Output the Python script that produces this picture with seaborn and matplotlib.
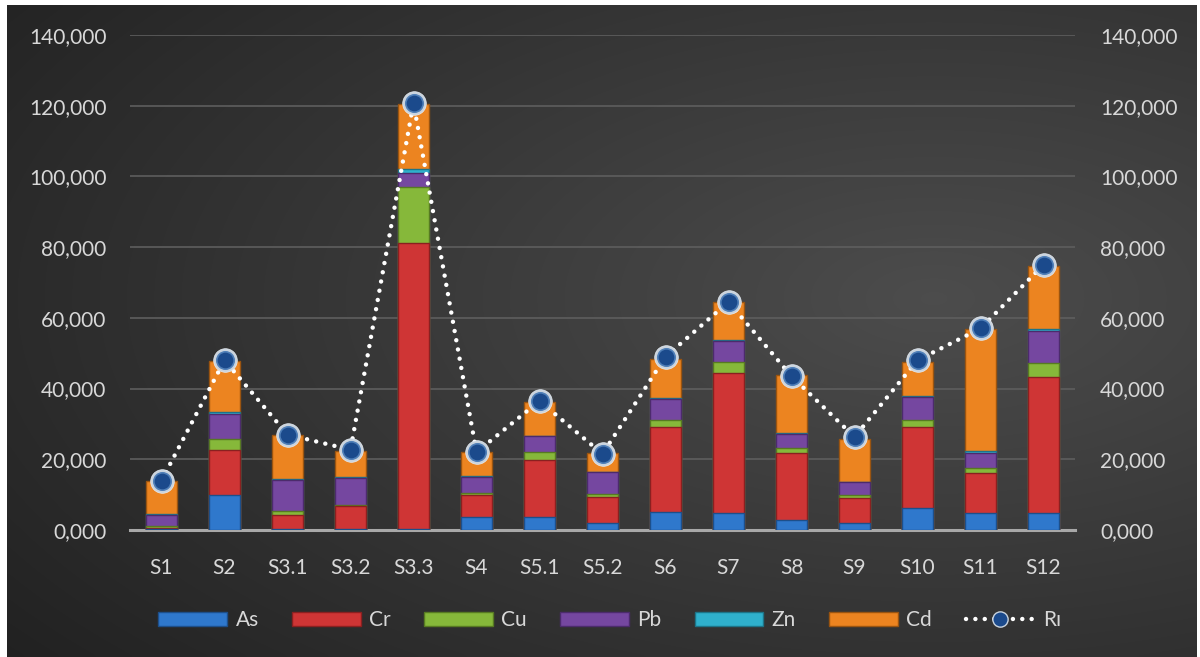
import numpy as np
import pandas as pd
import matplotlib
matplotlib.use("Agg")
import matplotlib.pyplot as plt
import matplotlib.ticker as mticker
from matplotlib.patches import Patch
from matplotlib.lines import Line2D
import seaborn as sns

samples = ["S1", "S2", "S3.1", "S3.2", "S3.3", "S4", "S5.1", "S5.2", "S6", "S7", "S8", "S9", "S10", "S11", "S12"]
As = [0.2, 10.0, 0.3, 0.2, 0.3, 3.8, 3.8, 1.9, 5.2, 4.7, 2.8, 1.9, 6.1, 4.7, 4.7]
Cr = [0.3, 12.5, 4.0, 6.5, 81.0, 6.1, 16.0, 7.5, 24.0, 39.6, 18.9, 7.1, 23.1, 11.3, 38.7]
Cu = [0.5, 3.3, 1.0, 0.5, 15.6, 0.5, 2.2, 0.9, 1.9, 3.3, 1.4, 0.9, 1.9, 1.4, 3.7]
Pb = [3.3, 7.0, 8.8, 7.5, 4.2, 4.7, 4.5, 6.0, 6.0, 5.8, 4.0, 3.6, 6.4, 4.5, 9.2]
Zn = [0.2, 0.5, 0.3, 0.3, 1.0, 0.2, 0.2, 0.2, 0.3, 0.3, 0.2, 0.2, 0.4, 0.4, 0.6]
Cd = [9.5, 14.5, 12.5, 7.3, 18.5, 6.7, 9.4, 5.2, 11.0, 10.9, 16.5, 12.0, 9.7, 34.6, 17.9]
Ri = [14.0, 48.0, 27.0, 22.7, 120.7, 22.0, 36.5, 21.5, 49.0, 64.5, 43.5, 26.3, 48.0, 57.0, 75.0]
y_ticks = [0, 20, 40, 60, 80, 100, 120, 140]

metals = ["As", "Cr", "Cu", "Pb", "Zn", "Cd"]
colors = {"As": "#2f78cc", "Cr": "#cf3535", "Cu": "#86b83a", "Pb": "#7547a0",
          "Zn": "#2fb0cc", "Cd": "#ec8420"}
edges = {"As": "#1d4f8a", "Cr": "#8a2020", "Cu": "#577a22", "Pb": "#4c2b6c",
         "Zn": "#1d7488", "Cd": "#9a5410"}

df = pd.DataFrame({"sample": samples, "As": As, "Cr": Cr, "Cu": Cu,
                   "Pb": Pb, "Zn": Zn, "Cd": Cd, "Ri": Ri})
cum = df[metals].cumsum(axis=1)

sns.set_theme(style="dark")
plt.rcParams["font.family"] = ["Lato", "DejaVu Sans"]

W, H = 1200, 657
fig = plt.figure(figsize=(12, 6.57), dpi=100, facecolor="white")

# dark gradient background panel
bg = fig.add_axes([7 / W, 0, (1197 - 7) / W, (H - 5) / H], zorder=-10)
gx = np.linspace(0, 1, 300)
gy = np.linspace(0, 1, 200)
GX, GY = np.meshgrid(gx, gy)
dist = np.sqrt(((GX - 0.78) / 1.0) ** 2 + ((GY - 0.55) / 0.9) ** 2)
shade = np.clip(0.30 - 0.17 * dist, 0.12, 0.30)
bg.imshow(np.dstack([shade, shade, shade]), aspect="auto", extent=[0, 1, 0, 1],
          origin="lower", interpolation="bicubic")
bg.set_axis_off()

ax = fig.add_axes([130 / W, 1 - 530 / H, (1075 - 130) / W, (530 - 35) / H])
ax.set_facecolor("none")
ax.patch.set_alpha(0)

for m in reversed(metals):
    sns.barplot(x=df["sample"], y=cum[m], ax=ax, color=colors[m], width=0.48,
                edgecolor=edges[m], linewidth=1.0, saturation=1, zorder=3)

sns.pointplot(x=df["sample"], y=df["Ri"], ax=ax, color="white",
              linestyle=(0, (0.01, 2.1)), linewidth=3.2, dash_capstyle="round",
              marker="o", markersize=17, markerfacecolor="#c9d3de",
              markeredgecolor="#e6ecf2", markeredgewidth=0.5, zorder=5)
sns.pointplot(x=df["sample"], y=df["Ri"], ax=ax, color="#1d4f91",
              linestyle="none", marker="o", markersize=12.5,
              markerfacecolor="#1b4a8c", markeredgecolor="#4f7fb8",
              markeredgewidth=1.2, zorder=6)

ax.set_xlim(-0.5, len(samples) - 0.5)
ax.set_ylim(0, 140)
ax.set_yticks(y_ticks)
fmt = mticker.FuncFormatter(lambda v, p: f"{v:.3f}".replace(".", ","))
ax.yaxis.set_major_formatter(fmt)
ax.set_xlabel("")
ax.set_ylabel("")
ax.grid(axis="y", color="#5e5e5e", linewidth=1.2, zorder=0)
ax.grid(axis="x", visible=False)
ax.set_axisbelow(True)
for s in ["top", "right", "left"]:
    ax.spines[s].set_visible(False)
ax.spines["bottom"].set_visible(True)
ax.spines["bottom"].set_color("#a8a8a8")
ax.spines["bottom"].set_linewidth(2.2)
ax.tick_params(axis="both", length=0, colors="#d8d8d8", labelsize=15)
ax.tick_params(axis="y", pad=17)
ax.tick_params(axis="x", pad=20)

ax2 = ax.twinx()
ax2.set_ylim(0, 140)
ax2.set_yticks(y_ticks)
ax2.yaxis.set_major_formatter(fmt)
ax2.tick_params(axis="y", length=0, colors="#d8d8d8", labelsize=15, pad=18)
for s in ax2.spines.values():
    s.set_visible(False)
ax2.grid(False)

handles = [Patch(facecolor=colors[m], edgecolor=edges[m], label=m) for m in metals]
handles.append(Line2D([0], [0], color="white", linestyle=(0, (0.01, 2.1)),
                      linewidth=3.2, dash_capstyle="round", marker="o",
                      markersize=11, markerfacecolor="#1b4a8c",
                      markeredgecolor="#c9d3de", label="Rı"))
leg = fig.legend(handles=handles, loc="center", bbox_to_anchor=(0.508, 1 - 620 / H),
                 ncol=7, frameon=False, labelcolor="#d8d8d8", fontsize=15,
                 handlelength=3.3, handleheight=0.65, columnspacing=1.6,
                 handletextpad=0.4)

fig.savefig("out.png", dpi=100, facecolor="white")
